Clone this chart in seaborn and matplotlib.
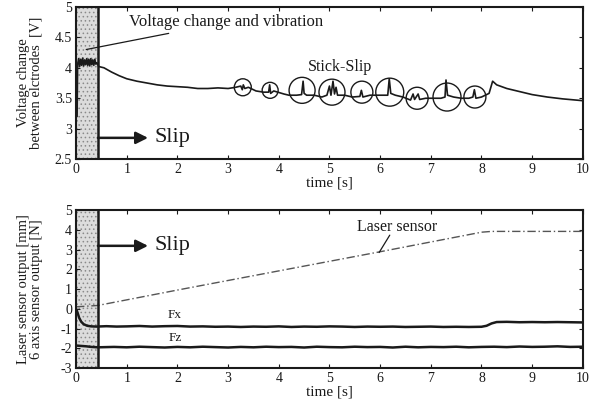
import matplotlib
matplotlib.use("Agg")
import matplotlib.pyplot as plt
import seaborn as sns
import pandas as pd

# ---------------- data ----------------
volt_t = [0.02, 0.03, 0.05, 0.07, 0.09, 0.11, 0.13, 0.15, 0.17, 0.19, 0.21, 0.23, 0.25,
          0.27, 0.29, 0.31, 0.33, 0.35, 0.37, 0.39, 0.41, 0.45, 0.55, 0.7, 0.85, 1.0,
          1.2, 1.4, 1.6, 1.8, 2.0, 2.2, 2.4, 2.6, 2.8, 3.0, 3.15, 3.25, 3.28, 3.3, 3.33,
          3.4, 3.55, 3.7, 3.8, 3.82, 3.84, 3.9, 4.1, 4.2, 4.35, 4.45, 4.48, 4.5, 4.55,
          4.7, 4.85, 4.95, 5.0, 5.03, 5.07, 5.1, 5.13, 5.16, 5.3, 5.45, 5.6, 5.63, 5.66,
          5.8, 6.0, 6.15, 6.18, 6.21, 6.3, 6.45, 6.6, 6.65, 6.68, 6.75, 6.78, 6.9, 7.05,
          7.2, 7.28, 7.3, 7.33, 7.45, 7.6, 7.75, 7.83, 7.86, 7.89, 8.0, 8.15, 8.22, 8.3,
          8.5, 8.8, 9.0, 9.3, 9.6, 10.0]
volt_v = [3.2, 4.05, 4.15, 4.02, 4.14, 4.04, 4.16, 4.03, 4.13, 4.05, 4.15, 4.04, 4.14,
          4.03, 4.15, 4.05, 4.13, 4.04, 4.14, 4.06, 4.08, 4.02, 4.0, 3.93, 3.87, 3.82,
          3.78, 3.75, 3.72, 3.7, 3.69, 3.68, 3.66, 3.66, 3.67, 3.66, 3.68, 3.7, 3.64, 3.72, 3.66,
          3.68, 3.62, 3.6, 3.6, 3.72, 3.58, 3.62, 3.57, 3.55, 3.55, 3.56, 3.78, 3.58, 3.55,
          3.55, 3.52, 3.55, 3.7, 3.55, 3.78, 3.57, 3.68, 3.55, 3.55, 3.52, 3.53, 3.63, 3.52,
          3.55, 3.55, 3.55, 3.82, 3.58, 3.55, 3.52, 3.47, 3.57, 3.48, 3.57, 3.48, 3.5, 3.5,
          3.5, 3.52, 3.8, 3.55, 3.52, 3.5, 3.5, 3.52, 3.64, 3.5, 3.52, 3.58, 3.78, 3.72,
          3.66, 3.6, 3.56, 3.52, 3.49, 3.46]

# stick-slip circles (centres)
circle_t = [3.29, 3.83, 4.46, 5.05, 5.64, 6.19, 6.73, 7.32, 7.87]
circle_v = [3.68, 3.63, 3.63, 3.60, 3.60, 3.60, 3.50, 3.52, 3.52]

laser_t = [0.0, 0.43, 2.0, 4.0, 6.0, 8.0, 8.2, 10.0]
laser_v = [0.1, 0.17, 0.95, 1.92, 2.89, 3.88, 3.92, 3.92]

fx_t = [0.0, 0.03, 0.06, 0.1, 0.15, 0.22, 0.3, 0.4, 0.6, 0.8, 1.0, 1.25, 1.5, 1.75,
        2.0, 2.25, 2.5, 2.75, 3.0, 3.25, 3.5, 3.75, 4.0, 4.25, 4.5, 4.75, 5.0, 5.25,
        5.5, 5.75, 6.0, 6.25, 6.5, 6.75, 7.0, 7.25, 7.5, 7.75, 8.0, 8.1, 8.2, 8.3,
        8.5, 8.75, 9.0, 9.25, 9.5, 9.75, 10.0]
fx_v = [0.0, -0.2, -0.45, -0.65, -0.78, -0.86, -0.89, -0.9, -0.88, -0.9, -0.89, -0.87,
        -0.9, -0.88, -0.87, -0.9, -0.89, -0.91, -0.9, -0.92, -0.9, -0.91, -0.89, -0.92,
        -0.9, -0.91, -0.89, -0.9, -0.92, -0.9, -0.91, -0.9, -0.92, -0.91, -0.9, -0.92,
        -0.91, -0.92, -0.91, -0.86, -0.74, -0.67, -0.66, -0.68, -0.67, -0.68, -0.67,
        -0.68, -0.69]

fz_t = [0.0, 0.1, 0.2, 0.3, 0.43, 0.75, 1.0, 1.25, 1.5, 1.75, 2.0, 2.25, 2.5, 2.75,
        3.0, 3.25, 3.5, 3.75, 4.0, 4.25, 4.5, 4.75, 5.0, 5.25, 5.5, 5.75, 6.0, 6.25,
        6.5, 6.75, 7.0, 7.25, 7.5, 7.75, 8.0, 8.25, 8.5, 8.75, 9.0, 9.25, 9.5, 9.75, 10.0]
fz_v = [-1.86, -1.88, -1.9, -1.93, -1.95, -1.93, -1.95, -1.92, -1.94, -1.96, -1.93,
        -1.95, -1.92, -1.94, -1.96, -1.93, -1.95, -1.92, -1.94, -1.93, -1.96, -1.92,
        -1.94, -1.95, -1.92, -1.94, -1.93, -1.96, -1.92, -1.95, -1.93, -1.94, -1.92,
        -1.95, -1.93, -1.92, -1.94, -1.91, -1.93, -1.92, -1.9, -1.93, -1.92]

x_ticks = [0, 1, 2, 3, 4, 5, 6, 7, 8, 9, 10]
top_yticks = [2.5, 3, 3.5, 4, 4.5, 5]
top_yticklabels = ["2.5", "3", "3.5", "4", "4.5", "5"]
bot_yticks = [-3, -2, -1, 0, 1, 2, 3, 4, 5]

# ---------------- style ----------------
sns.set_theme(style="ticks")
plt.rcParams['font.family'] = ['Liberation Serif', 'DejaVu Serif']
plt.rcParams['axes.unicode_minus'] = False
plt.rcParams['hatch.linewidth'] = 0.6
plt.rcParams['hatch.color'] = '#777777'
INK = '#1a1a1a'

fig = plt.figure(figsize=(5.99, 4.04), dpi=100)
ax1 = fig.add_axes([0.127, 0.606, 0.846, 0.377])
ax2 = fig.add_axes([0.127, 0.089, 0.846, 0.391])

sns.lineplot(data=pd.DataFrame({"t": volt_t, "v": volt_v}), x="t", y="v", ax=ax1,
             color=INK, linewidth=1.2, sort=False, estimator=None)

circle_r_px = [8.5, 8, 13, 13, 11, 14, 11, 14, 11]
sizes = [(2 * r * 0.72) ** 2 for r in circle_r_px]
ax1.scatter(circle_t, circle_v, s=sizes, facecolors='none', edgecolors=INK,
            linewidths=1.0, zorder=4)

sns.lineplot(data=pd.DataFrame({"t": laser_t, "v": laser_v}), x="t", y="v", ax=ax2,
             color='#555555', linewidth=1.0, linestyle=(0, (6, 2, 1, 2)),
             estimator=None, sort=False)
sns.lineplot(data=pd.DataFrame({"t": fx_t, "v": fx_v}), x="t", y="v", ax=ax2,
             color=INK, linewidth=1.8, estimator=None, sort=False)
sns.lineplot(data=pd.DataFrame({"t": fz_t, "v": fz_v}), x="t", y="v", ax=ax2,
             color=INK, linewidth=1.8, estimator=None, sort=False)

slip_y = {0: 2.85, 1: 3.19}
for i, (ax, yl, yt) in enumerate([(ax1, (2.5, 5), top_yticks), (ax2, (-3, 5), bot_yticks)]):
    ax.axvspan(0, 0.43, facecolor='#dcdcdc', hatch='....', edgecolor='#8a8a8a',
               linewidth=0, zorder=0)
    ax.axvline(0.43, color=INK, linewidth=1.8, zorder=3)
    ax.set_xlim(0, 10)
    ax.set_ylim(*yl)
    ax.set_xticks(x_ticks)
    ax.set_yticks(yt)
    ax.tick_params(direction='in', top=True, right=True, length=3, width=0.8,
                   colors=INK, labelsize=10, pad=3)
    for s in ax.spines.values():
        s.set_linewidth(1.5)
        s.set_color(INK)
        s.set_visible(True)
    ax.set_xlabel("time [s]", fontsize=11, color=INK, labelpad=0)
    ax.grid(False)
    y = slip_y[i]
    ax.annotate("", xy=(1.42, y), xytext=(0.43, y),
                arrowprops=dict(arrowstyle='-|>', color=INK, lw=1.8,
                                mutation_scale=18, shrinkA=0, shrinkB=0))
    ax.text(1.55, y, "Slip", fontsize=16, va='center', ha='left', color=INK)

ax1.set_yticklabels(top_yticklabels)
ax1.set_ylabel("Voltage change\nbetween elctrodes  [V]", fontsize=10.5, color=INK,
               linespacing=1.0)
ax1.yaxis.set_label_coords(-0.066, 0.5)
ax2.set_ylabel("Laser sensor output [mm]\n6 axis sensor output [N]", fontsize=10.5,
               color=INK, linespacing=1.0)
ax2.yaxis.set_label_coords(-0.066, 0.5)

ax1.annotate("Voltage change and vibration", xy=(0.2, 4.3), xytext=(1.05, 4.75),
             fontsize=12, va='center', ha='left', color=INK,
             arrowprops=dict(arrowstyle='-', color=INK, lw=0.9,
                             shrinkA=0, shrinkB=0))
ax1.text(5.2, 4.01, "Stick-Slip", fontsize=11.5, ha='center', va='center', color=INK)

ax2.text(6.33, 4.14, "Laser sensor", fontsize=11.5, ha='center', va='center', color=INK)
ax2.annotate("", xy=(5.98, 2.85), xytext=(6.19, 3.73),
             arrowprops=dict(arrowstyle='-', color=INK, lw=0.9, shrinkA=0, shrinkB=0))
ax2.text(1.95, -0.32, "Fx", fontsize=9.5, ha='center', va='center', color=INK)
ax2.text(1.95, -1.48, "Fz", fontsize=9.5, ha='center', va='center', color=INK)

fig.savefig("out.png", dpi=100)
